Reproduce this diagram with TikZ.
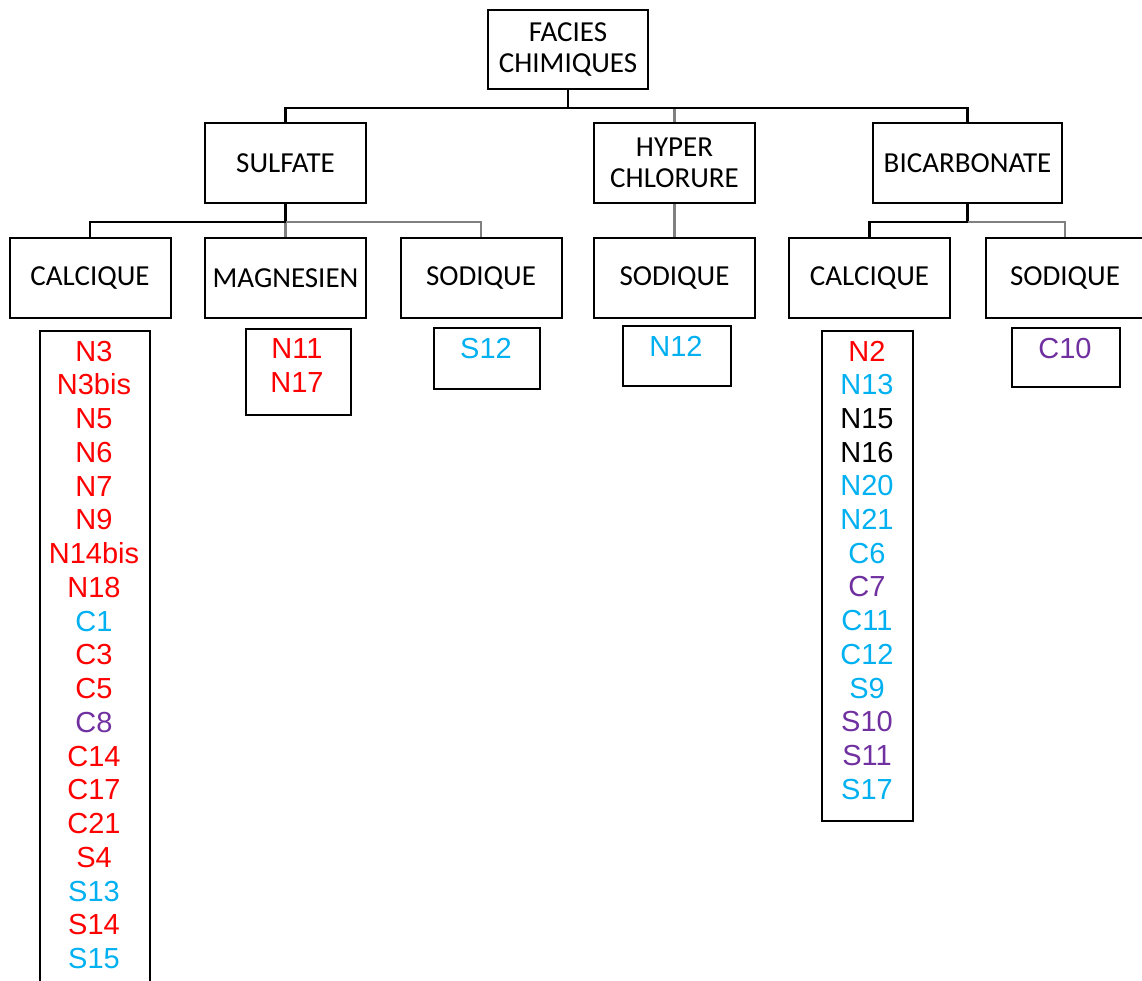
\documentclass[tikz,border=0pt]{standalone}
\usepackage{fontspec}
\setmainfont{Carlito}
\newfontfamily\arialfont{Liberation Sans}
\definecolor{cred}{HTML}{FF0000}
\definecolor{ccyan}{HTML}{00B0F0}
\definecolor{cpurple}{HTML}{7030A0}
\begin{document}
\begin{tikzpicture}[x=0.75pt,y=-0.75pt,
  box/.style={draw=black, line width=1.5pt, minimum width=120.75pt, minimum height=60pt,
    inner sep=0pt, align=center, font=\fontsize{21.75}{23.25}\selectfont},
  lbox/.style={draw=black, line width=1.5pt, inner sep=0pt, anchor=north west},
  item/.style={anchor=base, inner sep=0pt, font=\arialfont\fontsize{21.75}{25}\selectfont},
  blk/.style={line width=1.8pt, black},
  gry/.style={line width=1.6pt, black!50}]
\useasboundingbox (0,0) rectangle (1142,981);
% tree boxes
\node[box, minimum width=120pt, minimum height=59.25pt] (root) at (568,49.5) {FACIES\\CHIMIQUES};
\node[box] (sulf) at (285.5,163) {SULFATE};
\node[box] (hyp) at (674.5,163) {HYPER\\CHLORURE};
\node[box, minimum width=141.75pt] (bic) at (967.5,163) {BICARBONATE};
\node[box] (cal1) at (90,278) {CALCIQUE};
\node[box] (mag) at (285.5,278) {MAGNESIEN};
\node[box] (sod1) at (481,278) {SODIQUE};
\node[box] (sod2) at (674.5,278) {SODIQUE};
\node[box] (cal2) at (869.5,278) {CALCIQUE};
\node[box, minimum width=118.5pt] (sod3) at (1065,278) {SODIQUE};
% connectors
\draw[blk] (root.south) -- ++(0,18) coordinate (r0);
\draw[gry] (r0) -| (hyp.north);
\draw[blk] (r0) -| (sulf.north);
\draw[blk] (r0) -| (bic.north);
\draw[blk] (sulf.south) -- ++(0,18) coordinate (s0);
\draw[gry] (s0) -| (mag.north);
\draw[gry] (s0) -| (sod1.north);
\draw[blk] (s0) -| (cal1.north);
\draw[gry] (hyp.south) -- (sod2.north);
\draw[blk] (bic.south) -- ++(0,18) coordinate (c0);
\draw[gry] (c0) -| (sod3.north);
\draw[blk] (c0) -| (cal2.north);
% list boxes
\node[lbox, minimum width=82.5pt, minimum height=502.5pt] (l1) at (39,330) {};
\node[lbox, minimum width=78.75pt, minimum height=64.5pt] (l2) at (245,328) {};
\node[lbox, minimum width=79.5pt, minimum height=45.75pt] (l3) at (433,327) {};
\node[lbox, minimum width=81pt, minimum height=45pt] (l4) at (622,325) {};
\node[lbox, minimum width=68.25pt, minimum height=367.5pt] (l5) at (821,330) {};
\node[lbox, minimum width=81pt, minimum height=44.25pt] (l6) at (1011,327) {};
% list items
\foreach \t/\c [count=\i from 0] in {N3/cred,N3bis/cred,N5/cred,N6/cred,N7/cred,N9/cred,N14bis/cred,N18/cred,C1/ccyan,C3/cred,C5/cred,C8/cpurple,C14/cred,C17/cred,C21/cred,S4/cred,S13/ccyan,S14/cred,S15/ccyan}
  \node[item, text=\c] (a\i) at (94,361+33.75*\i) {\t};
\node[item, text=cred] (m0) at (297,358) {N11};
\node[item, text=cred] (m1) at (297,392) {N17};
\node[item, text=ccyan] (s12) at (486,358) {S12};
\node[item, text=ccyan] (n12) at (676,356) {N12};
\foreach \t/\c [count=\i from 0] in {N2/cred,N13/ccyan,N15/black,N16/black,N20/ccyan,N21/ccyan,C6/ccyan,C7/cpurple,C11/ccyan,C12/ccyan,S9/ccyan,S10/cpurple,S11/cpurple,S17/ccyan}
  \node[item, text=\c] (b\i) at (867,361+33.7*\i) {\t};
\node[item, text=cpurple] (c10) at (1065,358) {C10};
\end{tikzpicture}
\end{document}
